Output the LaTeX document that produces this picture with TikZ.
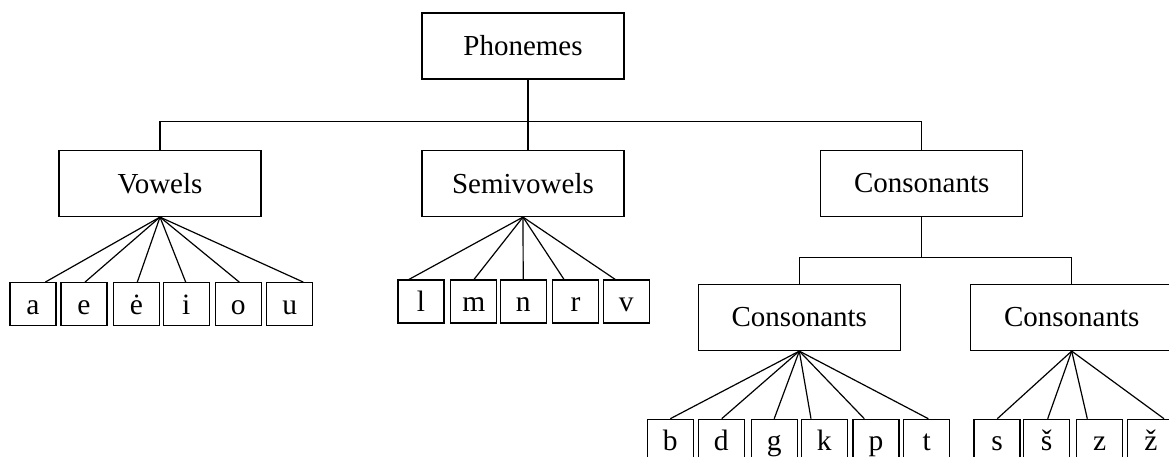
\documentclass[tikz,border=0pt]{standalone}
\usepackage{fontspec}
\setmainfont{Liberation Serif}
\begin{document}
\begin{tikzpicture}[x=1pt,y=-1pt,line width=1.2pt,
  catbox/.style={draw,minimum width=202pt,minimum height=66pt,inner sep=0pt,font=\fontsize{29}{34}\selectfont},
  leaf/.style={draw,minimum width=46pt,minimum height=43pt,inner sep=0pt,text height=22pt,text depth=2pt,font=\fontsize{29.5}{34}\selectfont},
  edge/.style={line width=1.2pt}]
\useasboundingbox (0,0) rectangle (1169,457);
\clip (0,0) rectangle (1169,457);
% category boxes
\node[catbox] (ph) at (523,46) {Phonemes};
\node[catbox] (vw) at (160,183.5) {Vowels};
\node[catbox] (sv) at (523,183.5) {Semivowels};
\node[catbox] (cn) at (921.7,183.5) {Consonants};
\node[catbox] (c1) at (799.3,317.5) {Consonants};
\node[catbox] (c2) at (1071.7,317.5) {Consonants};
% junctions
\coordinate (j0) at (528,121.7);
\coordinate (j1) at (921.7,257.3);
\draw[edge] (ph.south -| j0) -- (sv.north -| j0);
\draw[edge] (vw.north) |- (j0) -| (cn.north);
\draw[edge] (cn.south) -- (j1);
\draw[edge] (c1.north) |- (j1) -| (c2.north);
% vowels
\foreach \n/\t/\x/\d in {a/a/33/12.3, e/e/84/1, ed/ė/136.3/1, i/i/186.3/-0.6, o/o/238.3/1, u/u/289.8/13.5}{
  \node[leaf] (\n) at (\x,304.2) {\t};
  \draw[edge] (vw.south) -- ([xshift=\d pt]\n.north);
}
% semivowels
\foreach \n/\t/\x/\d in {l/l/421/-12, m/m/473.8/0.2, n/n/523.2/0, r/r/575.5/-11.5, v/v/626.2/-11}{
  \node[leaf] (\n) at (\x,301.5) {\t};
  \draw[edge] (sv.south) -- ([xshift=\d pt]\n.north);
}
% consonants 1
\foreach \n/\t/\x/\d in {b/b/670.3/0, d/d/721.3/0.4, g/g/774.2/0, k/k/824.2/-13.2, p/p/876/-11.7, t/t/926.7/1.6}{
  \node[leaf] (\n) at (\x,440.8) {\t};
  \draw[edge] (c1.south) -- ([xshift=\d pt]\n.north);
}
% consonants 2
\foreach \n/\t/\x/\d in {s/s/997/0.3, sh/š/1046.7/1, z/z/1099.7/-12.4, zh/ž/1150.8/13.2}{
  \node[leaf] (\n) at (\x,440.8) {\t};
  \draw[edge] (c2.south) -- ([xshift=\d pt]\n.north);
}
\end{tikzpicture}
\end{document}
